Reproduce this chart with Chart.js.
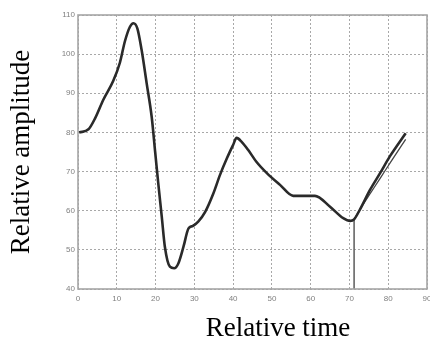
<!DOCTYPE html>
<html>
<head>
<meta charset="utf-8">
<script src="https://cdn.jsdelivr.net/npm/chart.js@4/dist/chart.umd.min.js"></script>
<style>
html,body{margin:0;padding:0;background:#fff;}
#wrap{width:430px;height:345px;position:relative;}
</style>
</head>
<body>
<div id="wrap"><canvas id="c" width="430" height="345"></canvas></div>
<script>
// ---- data ----
const xTickValues = [0,10,20,30,40,50,60,70,80,90];
const yTickValues = [40,50,60,70,80,90,100,110];
const xTitle = "Relative time";
const yTitle = "Relative amplitude";

const mainX = [0.3,2.7,4.4,6.5,9.1,10.8,12.1,13.4,14.3,15.3,16.4,17.7,19.0,19.9,20.7,21.6,22.4,23.7,24.8,25.9,27.2,28.5,29.6,31.0,32.8,34.9,36.6,38.4,40.0,40.9,42.2,43.9,46.0,48.7,52.1,55.5,61.1,65.0,68.4,70.2,71.2,72.7,75.3,77.9,80.5,84.5];
const mainY = [80.0,80.8,83.6,88.3,93.2,97.8,103.3,107.0,107.9,106.6,101.1,92.6,84.0,75.0,67.0,58.5,50.8,45.7,45.3,46.6,50.8,55.5,56.1,57.2,59.7,64.4,69.1,73.4,76.8,78.6,77.6,75.5,72.5,69.6,66.6,63.8,63.8,61.0,58.1,57.4,57.8,60.3,65.3,69.6,74.0,79.8];

const branchX = [71.2,73.0,75.5,78.0,81.0,84.5];
const branchY = [57.8,60.8,64.6,68.4,73.0,78.2];

const markerX = [71.2,71.2];
const markerY = [57.6,40];

const toPts = (xs, ys) => xs.map((x, i) => ({x: x, y: ys[i]}));

const framePlugin = {
  id: 'frame',
  afterDatasetsDraw(chart) {
    const a = chart.chartArea, ctx = chart.ctx;
    ctx.save();
    ctx.strokeStyle = '#a6a6a6';
    ctx.lineWidth = 1.6;
    ctx.strokeRect(a.left, a.top, a.right - a.left, a.bottom - a.top);
    ctx.restore();
  },
  afterDraw(chart) {
    const ctx = chart.ctx;
    ctx.save();
    ctx.fillStyle = '#000';
    ctx.font = '27px "Liberation Serif", "Times New Roman", serif';
    ctx.textAlign = 'center';
    ctx.textBaseline = 'middle';
    ctx.fillText(xTitle, 278, 329);
    ctx.restore();
  }
};

const tickFont = {family: '"Liberation Sans", Arial, sans-serif', size: 8};

new Chart(document.getElementById('c'), {
  type: 'line',
  data: {
    datasets: [
      {data: toPts(mainX, mainY), borderColor: '#2a2a2a', borderWidth: 2.6, pointRadius: 0, cubicInterpolationMode: 'monotone', fill: false},
      {data: toPts(branchX, branchY), borderColor: '#444', borderWidth: 1.3, pointRadius: 0, cubicInterpolationMode: 'monotone', fill: false},
      {data: toPts(markerX, markerY), borderColor: '#666', borderWidth: 1.6, pointRadius: 0, tension: 0, fill: false}
    ]
  },
  options: {
    responsive: false,
    animation: false,
    layout: {padding: {left: 0, right: 3, top: 15, bottom: 0}},
    plugins: {legend: {display: false}, tooltip: {enabled: false}},
    scales: {
      x: {
        type: 'linear', min: 0, max: 90,
        afterBuildTicks: s => { s.ticks = xTickValues.map(v => ({value: v})); },
        afterFit: s => { s.height = 56; s.paddingLeft = 0; s.paddingRight = 0; },
        ticks: {font: tickFont, color: '#808080', padding: 5, maxRotation: 0, autoSkip: false},
        grid: {color: '#a8a8a8', lineWidth: 1, drawTicks: false},
        border: {display: false, dash: [2,2]},
      },
      y: {
        type: 'linear', min: 40, max: 110,
        afterBuildTicks: s => { s.ticks = yTickValues.map(v => ({value: v})); },
        afterFit: s => { s.width = 78; s.paddingTop = 0; s.paddingBottom = 0; },
        ticks: {font: tickFont, color: '#808080', padding: 3, autoSkip: false},
        grid: {color: '#a8a8a8', lineWidth: 1, drawTicks: false},
        border: {display: false, dash: [2,2]},
        title: {display: true, text: yTitle, color: '#000', font: {family: '"Liberation Serif", "Times New Roman", serif', size: 27, lineHeight: 1.2}, padding: {top: 6, bottom: 0}}
      }
    }
  },
  plugins: [framePlugin]
});
</script>
</body>
</html>
